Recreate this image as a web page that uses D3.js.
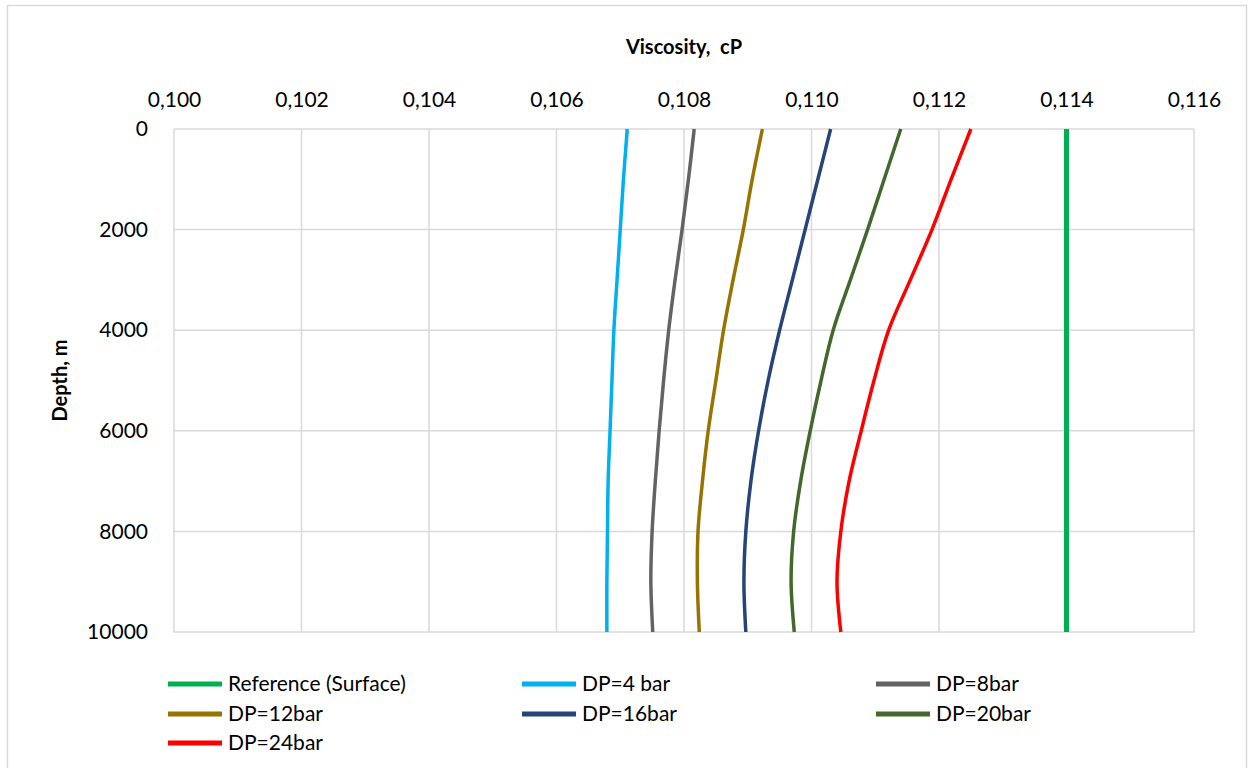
<!DOCTYPE html>
<html>
<head>
<meta charset="utf-8">
<script src="https://cdn.jsdelivr.net/npm/d3@7"></script>
<style>
  html, body { margin: 0; padding: 0; background: #fff; }
  svg { display: block; font-family: Lato, "Open Sans", sans-serif; }
</style>
</head>
<body>
<svg id="chart" width="1254" height="768"></svg>
<script>
// Depth samples (m) shared by every profile
const depths = [0, 1000, 2000, 3000, 4000, 5000, 6000, 7000, 8000, 9000, 10000];

// Viscosity profiles (cP) for each pressure drawdown
const refSurface = [0.1140, 0.1140, 0.1140, 0.1140, 0.1140, 0.1140, 0.1140, 0.1140, 0.1140, 0.1140, 0.1140];
const dp4  = [0.10711, 0.10705, 0.10700, 0.10695, 0.10690, 0.10687, 0.10684, 0.10681, 0.10680, 0.10679, 0.10679];
const dp8  = [0.10816, 0.10807, 0.10797, 0.10786, 0.10776, 0.10768, 0.10761, 0.10755, 0.10750, 0.10748, 0.10751];
const dp12 = [0.10923, 0.10907, 0.10893, 0.10877, 0.10862, 0.10850, 0.10838, 0.10829, 0.10822, 0.10821, 0.10824];
const dp16 = [0.11030, 0.11010, 0.10990, 0.10970, 0.10950, 0.10932, 0.10917, 0.10905, 0.10897, 0.10894, 0.10897];
const dp20 = [0.11140, 0.11114, 0.11088, 0.11061, 0.11034, 0.11015, 0.10998, 0.10983, 0.10972, 0.10968, 0.10973];
const dp24 = [0.11250, 0.11219, 0.11189, 0.11155, 0.11121, 0.11098, 0.11078, 0.11059, 0.11046, 0.11040, 0.11046];

const seriesNames  = ["Reference (Surface)", "DP=4 bar", "DP=8bar", "DP=12bar", "DP=16bar", "DP=20bar", "DP=24bar"];
const seriesValues = [refSurface, dp4, dp8, dp12, dp16, dp20, dp24];
const seriesColors = ["#00b050", "#00b0f0", "#636363", "#997300", "#264478", "#43682b", "#ff0000"];
const seriesWidths = [5, 3.5, 3.5, 3.5, 3.5, 3.5, 3.5];

// Axis ticks
const xTicks = [0.100, 0.102, 0.104, 0.106, 0.108, 0.110, 0.112, 0.114, 0.116];
const yTicks = [0, 2000, 4000, 6000, 8000, 10000];

const svg = d3.select("#chart");
const plot = { left: 174, right: 1194, top: 129, bottom: 632 };
const gridColor = "#d9d9d9";

// Outer chart frame
svg.append("rect")
  .attr("x", 7.5).attr("y", 5.5)
  .attr("width", 1239).attr("height", 780)
  .attr("fill", "#fff").attr("stroke", gridColor).attr("stroke-width", 1.5);

const x = d3.scaleLinear().domain([0.100, 0.116]).range([plot.left, plot.right]);
const y = d3.scaleLinear().domain([0, 10000]).range([plot.top, plot.bottom]);

const fmtX = v => d3.format(".3f")(v).replace(".", ",");

// Gridlines
const grid = svg.append("g");
grid.selectAll("line.vx").data(xTicks).join("line")
  .attr("x1", d => x(d)).attr("x2", d => x(d))
  .attr("y1", plot.top).attr("y2", plot.bottom)
  .attr("stroke", gridColor).attr("stroke-width", 1.5);
grid.selectAll("line.hy").data(yTicks).join("line")
  .attr("x1", plot.left).attr("x2", plot.right)
  .attr("y1", d => y(d)).attr("y2", d => y(d))
  .attr("stroke", gridColor).attr("stroke-width", 1.5);

// Top x axis (labels only)
const xAxis = svg.append("g")
  .attr("transform", `translate(0,${plot.top - 22})`)
  .call(d3.axisTop(x).tickValues(xTicks).tickFormat(fmtX).tickSize(0).tickPadding(0));
xAxis.select(".domain").remove();
xAxis.selectAll("text")
  .attr("font-family", "Lato, sans-serif").attr("font-size", 21).attr("fill", "#000");

// Left y axis (labels only)
const yAxis = svg.append("g")
  .attr("transform", `translate(${plot.left - 26},0)`)
  .call(d3.axisLeft(y).tickValues(yTicks).tickFormat(d3.format("d")).tickSize(0).tickPadding(0));
yAxis.select(".domain").remove();
yAxis.selectAll("text")
  .attr("font-family", "Lato, sans-serif").attr("font-size", 21).attr("fill", "#000");

// Axis titles
svg.append("text")
  .attr("x", (plot.left + plot.right) / 2).attr("y", 54)
  .attr("text-anchor", "middle")
  .attr("font-size", 20).attr("font-weight", "bold")
  .attr("xml:space", "preserve")
  .text("Viscosity,  cP");

svg.append("text")
  .attr("transform", `translate(67,${(plot.top + plot.bottom) / 2}) rotate(-90)`)
  .attr("text-anchor", "middle")
  .attr("font-size", 20).attr("font-weight", "bold")
  .text("Depth, m");

// Profiles
const line = d3.line()
  .x(d => x(d.v)).y(d => y(d.depth))
  .curve(d3.curveCatmullRom.alpha(0.5));

const series = seriesNames.map((name, i) => ({
  name,
  color: seriesColors[i],
  width: seriesWidths[i],
  points: depths.map((depth, j) => ({ depth, v: seriesValues[i][j] }))
}));

svg.append("g").selectAll("path").data(series).join("path")
  .attr("d", d => line(d.points))
  .attr("fill", "none")
  .attr("stroke", d => d.color)
  .attr("stroke-width", d => d.width)
  .attr("stroke-linejoin", "round");

// Legend: three columns, rows filled left to right
const legendCols = [168, 522, 876];
const legendRows = [684, 714, 743];
const legend = svg.append("g").selectAll("g").data(series).join("g")
  .attr("transform", (d, i) => `translate(${legendCols[i % 3]},${legendRows[Math.floor(i / 3)]})`);
legend.append("line")
  .attr("x1", 0).attr("x2", 54).attr("y1", 0).attr("y2", 0)
  .attr("stroke", d => d.color).attr("stroke-width", 5);
legend.append("text")
  .attr("x", 60).attr("y", 0).attr("dy", "0.35em")
  .attr("font-size", 21)
  .text(d => d.name);
</script>
</body>
</html>
